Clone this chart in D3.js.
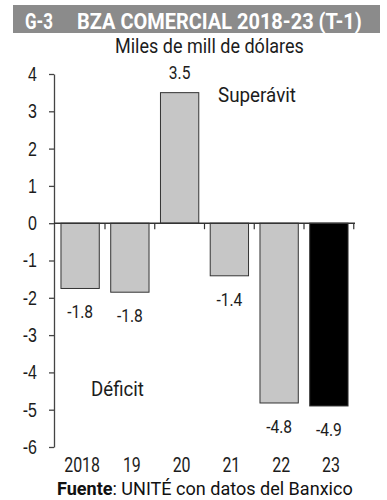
<!DOCTYPE html>
<html>
<head>
<meta charset="utf-8">
<script src="https://cdn.jsdelivr.net/npm/d3@7"></script>
<style>
  body { margin: 0; background: #fff; }
  svg { display: block; font-family: Roboto, "DejaVu Sans Condensed", sans-serif; }
</style>
</head>
<body>
<svg id="chart"></svg>
<script>
// Balanza comercial 2018-23 (T-1), miles de millones de dólares
const years  = ["2018", "19", "20", "21", "22", "23"];
const values = [-1.75, -1.85, 3.5, -1.41, -4.82, -4.9];
const labels = ["-1.8", "-1.8", "3.5", "-1.4", "-4.8", "-4.9"];
const yTicks = [4, 3, 2, 1, 0, -1, -2, -3, -4, -5, -6];

const width = 387, height = 500;
const ink = "#1c1c1c";
const svg = d3.select("#chart")
  .attr("width", width)
  .attr("height", height);

// schmale Schrift nachbilden: Text horizontal stauchen
function condense(sel, f) {
  sel.each(function () {
    const w = this.getComputedTextLength();
    d3.select(this).attr("textLength", w * f).attr("lengthAdjust", "spacingAndGlyphs");
  });
}

// Text in einer skalierten Gruppe auf Zielbreite bringen
function fitText(x0, y0, w, str, size, weight, fill) {
  const g = svg.append("g");
  const t = g.append("text")
    .attr("font-size", size + "px")
    .attr("font-weight", weight)
    .attr("fill", fill)
    .text(str);
  const sx = w / t.node().getComputedTextLength();
  g.attr("transform", `translate(${x0},${y0}) scale(${sx},1)`);
  return t;
}

// Titelbalken
svg.append("rect")
  .attr("x", 13).attr("y", 5)
  .attr("width", 367).attr("height", 28)
  .attr("fill", "#8b8b8b");
fitText(25, 29, 28, "G-3", 22, "bold", "#fff");
fitText(77, 29, 285, "BZA COMERCIAL 2018-23 (T-1)", 22, "bold", "#fff");

fitText(115, 53, 189, "Miles de mill de dólares", 20, "normal", ink);

const x = d3.scaleBand()
  .domain(years)
  .range([54, 355])
  .paddingInner(0.23)
  .paddingOuter(0.14);

const y = d3.scaleLinear()
  .domain([-6, 4])
  .range([447, 74]);

// Y-Achse
const yAxis = svg.append("g")
  .attr("transform", "translate(54,0)")
  .call(d3.axisLeft(y).tickValues(yTicks).tickFormat(d => String(d))
    .tickSize(5).tickSizeOuter(0).tickPadding(12));
yAxis.select(".domain").attr("stroke", "#444").attr("stroke-width", 1.3);
yAxis.selectAll(".tick line").attr("stroke", "#444").attr("stroke-width", 1.3);
yAxis.selectAll(".tick text")
  .attr("font-size", "20px")
  .attr("fill", ink)
  .attr("font-family", null)
  .call(condense, 0.8);

// Balken
svg.selectAll("rect.bar")
  .data(values)
  .join("rect")
  .attr("class", "bar")
  .attr("x", (d, i) => x(years[i]))
  .attr("y", d => y(Math.max(0, d)))
  .attr("width", x.bandwidth())
  .attr("height", d => Math.abs(y(d) - y(0)))
  .attr("fill", (d, i) => i === values.length - 1 ? "#000" : "#c6c6c6")
  .attr("stroke", "#333")
  .attr("stroke-width", 1);

// Nulllinie mit Kategorie-Ticks
svg.append("line")
  .attr("x1", 54).attr("x2", 355)
  .attr("y1", y(0)).attr("y2", y(0))
  .attr("stroke", "#333").attr("stroke-width", 1.5);
const gap = (x.step() - x.bandwidth()) / 2;
svg.selectAll("line.cat")
  .data(years)
  .join("line")
  .attr("class", "cat")
  .attr("x1", d => x(d) + x.bandwidth() + gap)
  .attr("x2", d => x(d) + x.bandwidth() + gap)
  .attr("y1", y(0)).attr("y2", y(0) + 6)
  .attr("stroke", "#333").attr("stroke-width", 1.2);

// Wertbeschriftungen
svg.selectAll("text.val")
  .data(values)
  .join("text")
  .attr("class", "val")
  .attr("x", (d, i) => x(years[i]) + x.bandwidth() / 2)
  .attr("y", d => d >= 0 ? y(d) - 14 : y(d) + 30)
  .attr("text-anchor", "middle")
  .attr("font-size", "19px")
  .attr("fill", ink)
  .text((d, i) => labels[i])
  .call(condense, 0.82);

// Jahre
svg.selectAll("text.year")
  .data(years)
  .join("text")
  .attr("class", "year")
  .attr("x", d => x(d) + x.bandwidth() / 2 + 2)
  .attr("y", 472)
  .attr("text-anchor", "middle")
  .attr("font-size", "21px")
  .attr("fill", ink)
  .text(d => d)
  .call(condense, 0.76);

fitText(218, 102, 78, "Superávit", 20, "normal", ink);
fitText(91, 396, 53, "Déficit", 20, "normal", ink);

// Quelle
const src = fitText(57, 495, 296, "", 19, "normal", "#111");
src.append("tspan").attr("font-weight", "bold").text("Fuente");
src.append("tspan").text(": UNITÉ con datos del Banxico");
const sxSrc = 296 / src.node().getComputedTextLength();
d3.select(src.node().parentNode).attr("transform", `translate(57,495) scale(${sxSrc},1)`);
</script>
</body>
</html>
